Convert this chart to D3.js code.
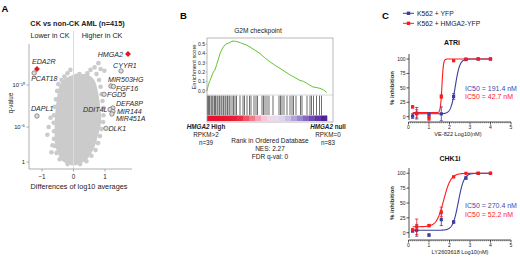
<!DOCTYPE html>
<html><head><meta charset="utf-8">
<script src="https://cdn.jsdelivr.net/npm/d3@7"></script>
<style>
html,body{margin:0;padding:0;background:#fff;}
svg{display:block;font-family:"Liberation Sans",Arial,Helvetica,sans-serif;}
</style></head><body>
<svg id="fig" width="520" height="257"></svg>
<script>
// ================= DATA =================
// ---- Panel A: volcano ----
const volcanoXTicks = [-1, 0, 1];
const volcanoYTicks = [0, 5, 10];              // -log10(q)
const volcanoYTickLabels = ["1", "10\u207B\u2075", "10\u207B\u00B9\u2070"];
// density envelope of the ~20k genes (per -log10 q level: lowest / highest difference)
const cloudNegLogQ = [-0.45, 0, 0.6, 1.3, 2.1, 3.0, 4.0, 5.0, 6.0, 7.0, 8.0, 9.0, 10.0, 10.6, 11.0, 11.3];
const cloudLo      = [-0.08, -0.35, -0.44, -0.51, -0.57, -0.6, -0.6, -0.6, -0.6, -0.57, -0.54, -0.51, -0.44, -0.35, -0.17, 0.05];
const cloudHi      = [0.08, 0.35, 0.48, 0.57, 0.67, 0.73, 0.79, 0.86, 0.89, 0.86, 0.83, 0.79, 0.73, 0.67, 0.57, 0.45];
// individual genes at the ragged edge of the cloud
const edgeDiff   = [-0.44,-0.54,-0.59,-0.62,-0.62,-0.63,-0.62,-0.6,-0.56,-0.52,-0.48,-0.38,-0.29,
                    -0.79,-0.83,-0.67,-0.70,-0.73,
                    -0.19,-0.1,0.1,0.19,0.32,0.44,0.54,0.67,0.79,0.86,0.98,0.73,
                    0.81,0.86,0.89,0.92,0.95,0.95,0.94,0.89,0.84,0.78,0.70,0.57,0.41,0.21,-0.19];
const edgeNegLogQ= [0.4,1.3,2.3,3.3,4.4,5.5,6.4,7.4,8.3,9.3,10.1,10.6,11.0,
                    5.0,3.9,2.4,1.4,6.1,
                    11.4,11.8,11.1,11.3,11.0,11.4,11.8,12.1,12.6,11.9,11.7,11.3,
                    10.6,9.8,8.9,8.1,7.3,6.4,5.6,4.7,3.7,2.7,1.7,0.9,0.1,-0.3,-0.3];
const geneNames   = ["HMGA2","EDA2R","PCAT18","DAPL1","CYYR1","MIR503HG","FGF16","FGD5","DEFA8P","DDIT4L","MIR144","MIR451A","DLK1"];
const geneDiff    = [1.73, -1.16, -1.25, -1.16, 1.51, 1.19, 1.27, 0.97, 1.25, 1.16, 1.25, 1.22, 1.03];
const geneNegLogQ = [13.69, 11.90, 11.43, 6.31, 11.67, 9.88, 9.82, 8.89, 7.26, 7.08, 6.85, 6.55, 4.81];
const geneHighlight = [true, true, false, false, false, false, false, false, false, false, false, false, false];

// ---- Panel B: GSEA ----
const gseaRank = [0, 250, 500, 800, 1050, 1300, 1617, 1900, 2167, 2450, 2717, 3100, 3550, 4000, 4333, 4750, 5167, 5600, 6000, 6600, 7167, 8000, 8833, 9600, 10500, 11300, 12167, 13000, 13833, 14700, 15500, 16100, 16617, 17100, 17667, 18200, 18833, 19400, 19950];
const gseaES   = [0, 0.07, 0.11, 0.16, 0.20, 0.22, 0.28, 0.34, 0.40, 0.44, 0.47, 0.50, 0.51, 0.525, 0.535, 0.53, 0.525, 0.515, 0.505, 0.49, 0.47, 0.435, 0.40, 0.355, 0.31, 0.275, 0.24, 0.205, 0.17, 0.14, 0.11, 0.10, 0.08, 0.06, 0.04, 0.035, 0.025, 0.01, -0.02];
const gseaTicks = [0.0, 0.1, 0.2, 0.3, 0.4, 0.5];
const hitRanks = [83,250,417,667,833,1000,1250,1417,1667,1833,2083,2333,2500,2750,3000,3167,3417,3667,3833,4167,4417,4667,4917,
                  5500,6000,6250,6667,7083,7333,7833,8167,8417,9167,9417,9667,10000,10333,11000,12000,12250,12500,12833,
                  13333,13833,14167,14417,14833,15583,15833,16667,17167,17417,17750,18250,18750,19083];
const rankBarColors = ["#e8112d","#e8112d","#e8132f","#e8182f","#e81d36","#ea2d46","#ee5468","#f07a8a","#f5a3b5","#f7c5d5",
                       "#f0d8e8","#e6dcef","#dcd3ec","#cbbfe3","#b3a3d8","#9b85cc","#8367c0","#6e4db3","#5d36a8","#4e2199"];

// ---- Panel C: dose response ----
const doseLog = [0.2, 0.4, 1.0, 1.6, 2.2, 2.8, 3.4, 4.0];
const atriYFP      = [1, 6, 3, 5, 35, 99, 100, 100];
const atriYFPErr   = [4, 10, 4, 12, 5, 1, 1, 1];
const atriHMGA2    = [17, 5, -3, 35, 97, 100, 100, 100];
const atriHMGA2Err = [2, 7, 4, 3, 1, 0, 0, 0];
const chkYFP       = [3, 4, -4, 22, 18, 92, 100, 100];
const chkYFPErr    = [2, 10, 2, 10, 2, 2, 1, 1];
const chkHMGA2     = [5, 10, 12, 35, 94, 100, 100, 100];
const chkHMGA2Err  = [1, 13, 2, 8, 1, 0, 0, 0];
// 4-parameter fits: [bottom, top, logIC50, hill]
const atriYFPFit   = [5, 100, Math.log10(191.4), 4];
const atriHMGA2Fit = [7, 100, Math.log10(42.7), 12];
const chkYFPFit    = [4, 100, Math.log10(270.4), 3.2];
const chkHMGA2Fit  = [10, 100, Math.log10(52.2), 2.5];
const cXTicks = [0, 1, 2, 3, 4, 5];
const cYTicks = [0, 25, 50, 75, 100];
const legendLabels = ["K562 + YFP", "K562 + HMGA2-YFP"];

// ================= DRAW =================
const svg = d3.select("#fig");
const BLUE = "#3d3d9e", RED = "#ff1a1a", GRAY_AX = "#8c8c8c";

function txt(g, x, y, s, size, opts = {}) {
  return g.append("text").attr("x", x).attr("y", y).text(s)
    .attr("font-size", size).attr("fill", opts.fill || "#222")
    .attr("text-anchor", opts.anchor || "start")
    .attr("font-weight", opts.weight || "normal")
    .attr("font-style", opts.style || "normal");
}

// ---------- Panel A ----------
const gA = svg.append("g");
txt(gA, 1.5, 12, "A", 9.5, {weight: "bold", fill: "#000"});
txt(gA, 77.5, 25.5, "CK vs non-CK AML (n=415)", 7.3, {anchor: "middle", weight: "bold"});
txt(gA, 50, 38, "Lower in CK", 7.2, {anchor: "middle"});
txt(gA, 102, 38, "Higher in CK", 7.2, {anchor: "middle"});

const xA = d3.scaleLinear().domain([-1, 0, 1]).range([42, 73.5, 105]);
const yA = d3.scaleLinear().domain([0, 5, 10]).range([162, 127, 85]);

const cloud = cloudNegLogQ.map((q, i) => ({q, lo: cloudLo[i], hi: cloudHi[i]}));
gA.append("path").datum(cloud)
  .attr("d", d3.area().curve(d3.curveBasis).y(d => yA(d.q)).x0(d => xA(d.lo)).x1(d => xA(d.hi)))
  .attr("fill", "#cbcbcb");
gA.selectAll("circle.edge").data(edgeDiff.map((d, i) => [d, edgeNegLogQ[i]])).join("circle")
  .attr("class", "edge").attr("cx", d => xA(d[0])).attr("cy", d => yA(d[1])).attr("r", 2.3).attr("fill", "#cbcbcb");

// zero line
gA.append("line").attr("x1", xA(0)).attr("x2", xA(0)).attr("y1", 31).attr("y2", 169)
  .attr("stroke", "#dcdcdc").attr("stroke-width", 1);

// axes
const axA = gA.append("g").attr("stroke", GRAY_AX).attr("stroke-width", 0.7);
axA.append("line").attr("x1", 29).attr("x2", 29).attr("y1", 44).attr("y2", 169);
axA.append("line").attr("x1", 29).attr("x2", 132).attr("y1", 169).attr("y2", 169);
volcanoYTicks.forEach((t, i) => {
  axA.append("line").attr("x1", 26.5).attr("x2", 29).attr("y1", yA(t)).attr("y2", yA(t));
  txt(gA, 25, yA(t) + 2, volcanoYTickLabels[i], 5.8, {anchor: "end"});
});
volcanoXTicks.forEach(t => {
  axA.append("line").attr("x1", xA(t)).attr("x2", xA(t)).attr("y1", 169).attr("y2", 171.5);
  txt(gA, xA(t), 178.5, t < 0 ? "\u2212" + Math.abs(t) : String(t), 6.3, {anchor: "middle"});
});
txt(gA, 79, 189, "Differences of log10 averages", 7.3, {anchor: "middle"});
gA.append("text").attr("transform", "translate(13,103) rotate(-90)").attr("text-anchor", "middle")
  .attr("font-size", 6.3).attr("fill", "#222").text("q-value");

// highlighted genes
const labelLayout = {
  HMGA2: [-5, 3, "end"], EDA2R: [-5, -5.5, "start"], PCAT18: [-3, 8.5, "start"], DAPL1: [-6, -4.5, "start"],
  CYYR1: [-8, -2.7, "start"], MIR503HG: [-3, -4, "start"], FGF16: [2.5, 4, "start"], FGD5: [3, 2.7, "start"],
  DEFA8P: [3, -2.3, "start"], DDIT4L: [-2.5, 2, "end"], MIR144: [4, 2.3, "start"], MIR451A: [4, 6.6, "start"], DLK1: [2.5, 2.5, "start"]
};
geneNames.forEach((name, i) => {
  const px = xA(geneDiff[i]), py = yA(geneNegLogQ[i]);
  if (geneHighlight[i]) {
    gA.append("path").attr("d", d3.symbol(d3.symbolSquare, 17)()).attr("transform", `translate(${px},${py}) rotate(45)`)
      .attr("fill", "#e3141c");
  } else {
    gA.append("circle").attr("cx", px).attr("cy", py).attr("r", 2.2)
      .attr("fill", "#dedede").attr("stroke", "#6e6e6e").attr("stroke-width", 0.75);
  }
});
geneNames.forEach((name, i) => {
  const px = xA(geneDiff[i]), py = yA(geneNegLogQ[i]);
  const L = labelLayout[name];
  txt(gA, px + L[0], py + L[1], name, 7.1, {anchor: L[2], style: "italic", fill: "#2a2a2a"});
});

// ---------- Panel B ----------
const gB = svg.append("g");
txt(gB, 180, 19, "B", 9.5, {weight: "bold", fill: "#000"});
const xB = d3.scaleLinear().domain([0, 21000]).range([207, 333]);
const yB = d3.scaleLinear().domain([0, 0.5]).range([90.7, 44.2]);
txt(gB, 258, 33, "G2M checkpoint", 6.6, {anchor: "middle"});

// ranked list color bar
const nb = rankBarColors.length;
rankBarColors.forEach((c, i) => {
  gB.append("rect").attr("x", xB(i * 20000 / nb)).attr("width", xB((i + 1) * 20000 / nb) - xB(i * 20000 / nb) + 0.3)
    .attr("y", 115.5).attr("height", 5.5).attr("fill", c);
});
// barcode
gB.selectAll("line.hit").data(hitRanks).join("line").attr("class", "hit")
  .attr("x1", d => xB(d)).attr("x2", d => xB(d)).attr("y1", 95.5).attr("y2", 115)
  .attr("stroke", "#1a1a1a").attr("stroke-width", 0.8).attr("stroke-opacity", 0.8);
gB.append("line").attr("x1", 207).attr("x2", 333).attr("y1", 95).attr("y2", 95).attr("stroke", "#c8c8c8").attr("stroke-width", 0.7);
// ES curve
gB.append("path").datum(gseaRank.map((r, i) => [r, gseaES[i]]))
  .attr("d", d3.line().x(d => xB(d[0])).y(d => yB(d[1])))
  .attr("fill", "none").attr("stroke", "#62c431").attr("stroke-width", 1);
// frame
gB.append("rect").attr("x", 207).attr("y", 38).attr("width", 126).attr("height", 84)
  .attr("fill", "none").attr("stroke", "#9a9a9a").attr("stroke-width", 0.7);
gseaTicks.forEach(t => {
  gB.append("line").attr("x1", 205.5).attr("x2", 207).attr("y1", yB(t)).attr("y2", yB(t)).attr("stroke", GRAY_AX).attr("stroke-width", 0.6);
  txt(gB, 205, yB(t) + 1.8, t.toFixed(1), 5, {anchor: "end"});
});
gB.append("text").attr("transform", "translate(196,67) rotate(-90)").attr("text-anchor", "middle")
  .attr("font-size", 5.8).attr("fill", "#222").text("Enrichment score");

const hiT = gB.append("text").attr("x", 206).attr("y", 129).attr("text-anchor", "middle").attr("font-size", 6.3).attr("font-weight", "bold").attr("fill", "#222");
hiT.append("tspan").attr("font-style", "italic").text("HMGA2");
hiT.append("tspan").text(" High");
txt(gB, 206, 137, "RPKM>2", 6.3, {anchor: "middle"});
txt(gB, 206, 145, "n=39", 6.3, {anchor: "middle"});
const nuT = gB.append("text").attr("x", 328).attr("y", 129).attr("text-anchor", "middle").attr("font-size", 6.3).attr("font-weight", "bold").attr("fill", "#222");
nuT.append("tspan").attr("font-style", "italic").text("HMGA2");
nuT.append("tspan").text(" null");
txt(gB, 328, 137, "RPKM=0", 6.3, {anchor: "middle"});
txt(gB, 328, 145, "n=83", 6.3, {anchor: "middle"});
txt(gB, 270, 143, "Rank in Ordered Database", 6.5, {anchor: "middle"});
txt(gB, 270, 150.5, "NES: 2.27", 6.5, {anchor: "middle"});
txt(gB, 270, 158.5, "FDR q-val: 0", 6.5, {anchor: "middle"});

// ---------- Panel C ----------
const gC = svg.append("g");
txt(gC, 382, 19, "C", 9.5, {weight: "bold", fill: "#000"});
// legend
[[BLUE, 13.3], [RED, 23.3]].forEach((d, i) => {
  gC.append("line").attr("x1", 403).attr("x2", 414).attr("y1", d[1]).attr("y2", d[1]).attr("stroke", d[0]).attr("stroke-width", 1);
  gC.append("rect").attr("x", 406.8).attr("y", d[1] - 1.7).attr("width", 3.4).attr("height", 3.4).attr("fill", d[0]);
  txt(gC, 417, d[1] + 2.4, legendLabels[i], 6.8);
});

const xC = d3.scaleLinear().domain([0, 5]).range([408.5, 511]);
function fourPL(p, x) { return p[0] + (p[1] - p[0]) / (1 + Math.pow(10, p[3] * (p[2] - x))); }

function dosePlot(cfg) {
  const g = gC.append("g");
  const y = d3.scaleLinear().domain([0, 100]).range([cfg.y0, cfg.y100]);
  txt(g, cfg.titleX, cfg.titleY, cfg.title, 7, {anchor: "middle", weight: "bold", fill: "#111"});
  const ax = g.append("g").attr("stroke", "#222").attr("stroke-width", 0.8);
  ax.append("line").attr("x1", 409).attr("x2", 409).attr("y1", cfg.axTop).attr("y2", cfg.axBot);
  ax.append("line").attr("x1", 408.5).attr("x2", 511).attr("y1", cfg.xAxisY).attr("y2", cfg.xAxisY);
  cYTicks.forEach(t => {
    ax.append("line").attr("x1", 406.5).attr("x2", 409).attr("y1", y(t)).attr("y2", y(t));
    txt(g, 405.5, y(t) + 1.8, String(t), 5, {anchor: "end"});
  });
  d3.range(0, 50).forEach(k => {
    const v = k / 10;
    ax.append("line").attr("x1", xC(v)).attr("x2", xC(v)).attr("y1", cfg.xAxisY)
      .attr("y2", cfg.xAxisY + (k % 10 === 0 ? 2.5 : 1.3)).attr("stroke-width", k % 10 === 0 ? 0.8 : 0.5);
  });
  ax.append("line").attr("x1", xC(5)).attr("x2", xC(5)).attr("y1", cfg.xAxisY).attr("y2", cfg.xAxisY + 2.5);
  cXTicks.forEach(t => txt(g, xC(t), cfg.xAxisY + 6.5, String(t), 5, {anchor: "middle"}));
  txt(g, cfg.xLabX, cfg.xAxisY + 13.5, cfg.xLabel, 5.6, {anchor: "middle"});
  g.append("text").attr("transform", `translate(394,${cfg.yLabY}) rotate(-90)`).attr("text-anchor", "middle")
    .attr("font-size", 6).attr("font-weight", "bold").attr("fill", "#222").text("% inhibition");

  const xs = d3.range(0.2, 4.0001, 0.01);
  cfg.series.forEach(s => {
    g.append("path").datum(xs).attr("d", d3.line().x(d => xC(d)).y(d => y(fourPL(s.fit, d))))
      .attr("fill", "none").attr("stroke", s.color).attr("stroke-width", 1.1);
  });
  cfg.series.forEach(s => {
    doseLog.forEach((d, i) => {
      const cx = xC(d), cy = y(s.vals[i]), e = s.err[i];
      if (e > 0) {
        g.append("line").attr("x1", cx).attr("x2", cx).attr("y1", y(s.vals[i] - e)).attr("y2", y(s.vals[i] + e)).attr("stroke", s.color).attr("stroke-width", 0.8);
        [s.vals[i] - e, s.vals[i] + e].forEach(v => g.append("line").attr("x1", cx - 1.6).attr("x2", cx + 1.6).attr("y1", y(v)).attr("y2", y(v)).attr("stroke", s.color).attr("stroke-width", 0.8));
      }
      g.append("rect").attr("x", cx - 1.6).attr("y", cy - 1.6).attr("width", 3.2).attr("height", 3.2).attr("fill", s.color);
    });
  });
  txt(g, 465, cfg.ic1Y, cfg.ic1, 7, {fill: "#4646aa"});
  txt(g, 465, cfg.ic2Y, cfg.ic2, 7, {fill: RED});
}

dosePlot({title: "ATRi", titleX: 452, titleY: 45, y0: 116.7, y100: 59, axTop: 54, axBot: 120, xAxisY: 122,
  xLabel: "VE-822 Log10(nM)", xLabX: 458, yLabY: 88,
  series: [{vals: atriYFP, err: atriYFPErr, fit: atriYFPFit, color: BLUE}, {vals: atriHMGA2, err: atriHMGA2Err, fit: atriHMGA2Fit, color: RED}],
  ic1: "IC50 = 191.4 nM", ic1Y: 90.5, ic2: "IC50 = 42.7 nM", ic2Y: 99});
dosePlot({title: "CHK1i", titleX: 450, titleY: 161, y0: 232.7, y100: 173.3, axTop: 168, axBot: 238, xAxisY: 240,
  xLabel: "LY2603618 Log10(nM)", xLabX: 460, yLabY: 203,
  series: [{vals: chkYFP, err: chkYFPErr, fit: chkYFPFit, color: BLUE}, {vals: chkHMGA2, err: chkHMGA2Err, fit: chkHMGA2Fit, color: RED}],
  ic1: "IC50 = 270.4 nM", ic1Y: 207.5, ic2: "IC50 = 52.2 nM", ic2Y: 216.5});
</script>
</body></html>
